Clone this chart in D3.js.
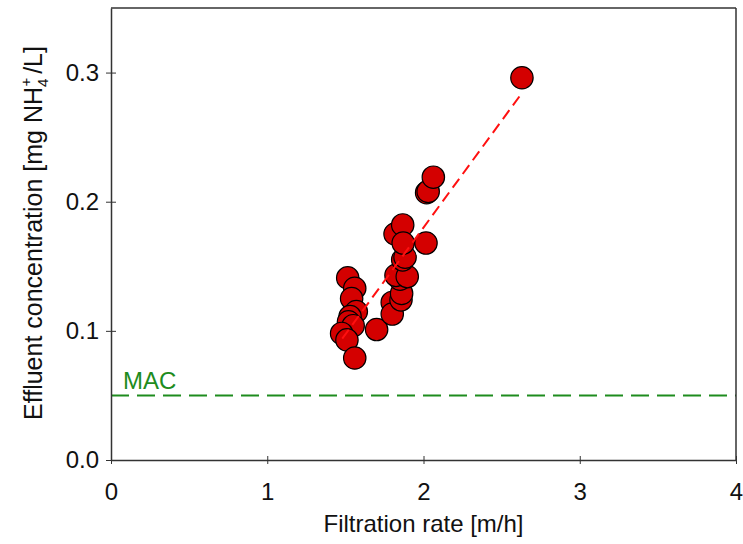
<!DOCTYPE html>
<html>
<head>
<meta charset="utf-8">
<script src="https://cdn.jsdelivr.net/npm/d3@7"></script>
<style>
  body { margin: 0; background: #fff; }
  svg { display: block; font-family: "Liberation Sans", Arial, sans-serif; }
</style>
</head>
<body>
<div class="chart"></div>
<script>
// data
const rate = [1.515, 1.56, 1.54, 1.57, 1.53, 1.52, 1.55, 1.476, 1.51, 1.56,
              1.70, 1.80, 1.80, 1.856, 1.86, 1.85, 1.824, 1.896, 1.867, 1.882,
              1.818, 1.867, 1.87, 2.016, 2.02, 2.03, 2.063, 2.63];
const conc = [0.141, 0.133, 0.125, 0.115, 0.111, 0.107, 0.104, 0.098, 0.093, 0.079,
              0.101, 0.122, 0.113, 0.124, 0.129, 0.140, 0.143, 0.142, 0.155, 0.157,
              0.175, 0.182, 0.168, 0.168, 0.207, 0.208, 0.219, 0.296];
const fitX = [1.48, 2.635];
const fitY = [0.094, 0.285];
const macLevel = 0.05;
const xTicks = [0, 1, 2, 3, 4];
const yTicks = [0.0, 0.1, 0.2, 0.3];

// chart size
const w = 743, h = 544;
const margin = { top: 8, right: 7, bottom: 84, left: 111 };
const fontSize = 24;

const xScale = d3.scaleLinear().domain([0, 4]).range([margin.left, w - margin.right]);
const yScale = d3.scaleLinear().domain([0, 0.35]).range([h - margin.bottom, margin.top]);

const svg = d3.select("div.chart").append("svg")
    .attr("width", w)
    .attr("height", h);

const axisColor = "#333";

// MAC line
svg.append("line")
    .attr("x1", xScale(0)).attr("x2", xScale(4))
    .attr("y1", yScale(macLevel)).attr("y2", yScale(macLevel))
    .attr("stroke", "#1e8c1e")
    .attr("stroke-width", 2)
    .attr("stroke-dasharray", "18,8");

svg.append("text")
    .attr("x", xScale(0) + 12)
    .attr("y", yScale(macLevel) - 6)
    .attr("fill", "#1e8c1e")
    .attr("font-size", fontSize)
    .text("MAC");

// points
svg.selectAll("circle.pt")
    .data(rate.map((r, i) => ({ x: r, y: conc[i] })))
    .enter()
    .append("circle")
    .attr("class", "pt")
    .attr("cx", d => xScale(d.x))
    .attr("cy", d => yScale(d.y))
    .attr("r", 11.2)
    .attr("fill", "#d40000")
    .attr("stroke", "#000")
    .attr("stroke-width", 1.2);

// fit line, drawn over the points
svg.append("line")
    .attr("x1", xScale(fitX[0])).attr("y1", yScale(fitY[0]))
    .attr("x2", xScale(fitX[1])).attr("y2", yScale(fitY[1]))
    .attr("stroke", "#ff1010")
    .attr("stroke-width", 2)
    .attr("stroke-dasharray", "11,6");

// axes
const xAxis = d3.axisBottom(xScale).tickValues(xTicks).tickFormat(d3.format("d")).tickSizeInner(4).tickSizeOuter(0).tickPadding(19);
const gx = svg.append("g")
    .attr("transform", "translate(0," + yScale(0) + ")")
    .call(xAxis);

const yAxis = d3.axisLeft(yScale).tickValues(yTicks).tickFormat(d3.format(".1f")).tickSizeInner(4).tickSizeOuter(0).tickPadding(8);
const gy = svg.append("g")
    .attr("transform", "translate(" + xScale(0) + ",0)")
    .call(yAxis);

[gx, gy].forEach(g => {
    g.select(".domain").attr("stroke", axisColor).attr("stroke-width", 1.5);
    g.selectAll(".tick line").attr("stroke", axisColor).attr("stroke-width", 1);
    g.selectAll(".tick text").attr("font-size", fontSize).attr("fill", "#111")
        .attr("font-family", "Liberation Sans, Arial, sans-serif");
});
// ticks cross the axis
gx.selectAll(".tick line").attr("y1", -4).attr("y2", 4);
gy.selectAll(".tick line").attr("x1", -5).attr("x2", 5);

// top and right frame
svg.append("line")
    .attr("x1", xScale(0)).attr("x2", xScale(4))
    .attr("y1", yScale(0.35)).attr("y2", yScale(0.35))
    .attr("stroke", axisColor).attr("stroke-width", 1.5);
svg.append("line")
    .attr("x1", xScale(4)).attr("x2", xScale(4))
    .attr("y1", yScale(0.35)).attr("y2", yScale(0))
    .attr("stroke", axisColor).attr("stroke-width", 1.5);

// axis titles
svg.append("text")
    .attr("x", (xScale(0) + xScale(4)) / 2)
    .attr("y", 532)
    .attr("text-anchor", "middle")
    .attr("font-size", fontSize)
    .attr("fill", "#111")
    .text("Filtration rate [m/h]");

const yTitle = svg.append("text")
    .attr("transform", "translate(42,233) rotate(-90)")
    .attr("text-anchor", "middle")
    .attr("font-size", 25)
    .attr("fill", "#111");
yTitle.append("tspan").text("Effluent concentration [mg NH");
yTitle.append("tspan").attr("font-size", 15).attr("dy", 6).text("4");
yTitle.append("tspan").attr("font-size", 15).attr("dy", -17).attr("dx", -8).text("+");
yTitle.append("tspan").attr("dy", 11).attr("dx", 4).text("/L]");
</script>
</body>
</html>
